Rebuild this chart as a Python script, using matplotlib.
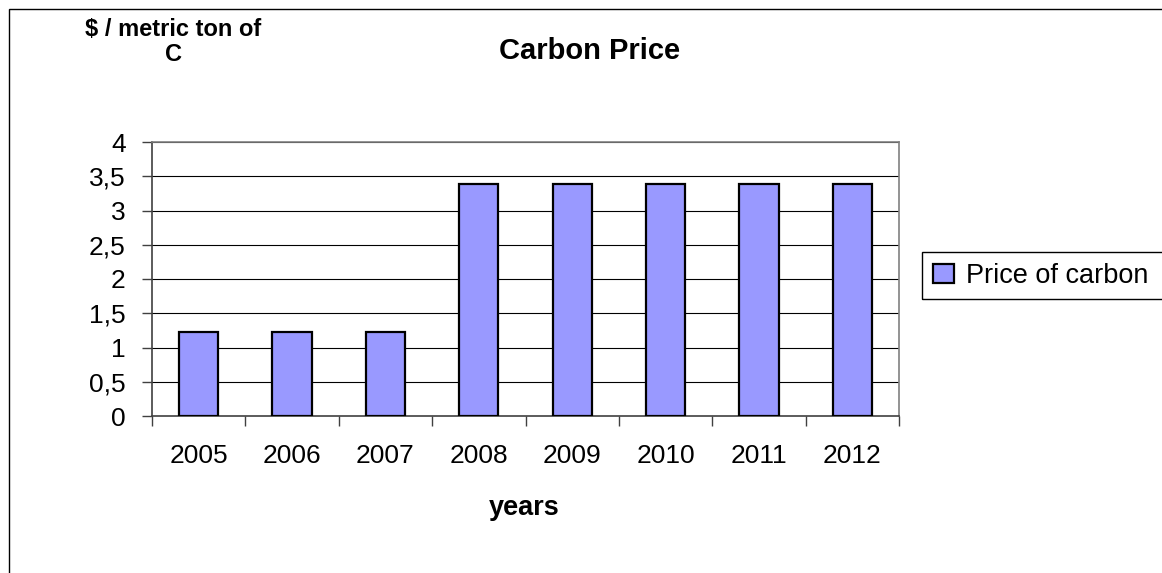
import matplotlib
matplotlib.use("Agg")
import matplotlib.pyplot as plt
from matplotlib.patches import Rectangle
import numpy as np

years = ["2005", "2006", "2007", "2008", "2009", "2010", "2011", "2012"]
prices = [1.22, 1.22, 1.22, 3.39, 3.39, 3.39, 3.39, 3.39]
y_ticks = [0, 0.5, 1, 1.5, 2, 2.5, 3, 3.5, 4]
y_tick_labels = ["0", "0,5", "1", "1,5", "2", "2,5", "3", "3,5", "4"]
series_name = "Price of carbon"
title = "Carbon Price"
y_label = "$ / metric ton of\nC"
x_label = "years"

W, H = 1162, 573
plt.rcParams['font.family'] = ['Liberation Sans', 'DejaVu Sans']
fig = plt.figure(figsize=(W / 100, H / 100), dpi=100)

def fx(px):
    return px / W

def fy(py):
    return 1 - py / H

# outer chart border (left and top visible, rest beyond image)
fig.patches.append(Rectangle((fx(9), fy(H + 20)), fx(W + 20), fy(9) - fy(H + 20),
                             transform=fig.transFigure, fill=False,
                             edgecolor='black', linewidth=1.0))

ax = fig.add_axes([fx(152), fy(416), fx(899) - fx(152), fy(142) - fy(416)])
x = np.arange(len(years))
bars = ax.bar(x, prices, width=0.42, color='#9999FF', edgecolor='black',
              linewidth=1.6, zorder=3, label=series_name)

ax.set_xlim(-0.5, len(years) - 0.5)
ax.set_ylim(0, 4)
ax.set_yticks(y_ticks)
ax.set_yticklabels(y_tick_labels, fontsize=19)
for yv in y_ticks[1:]:
    ax.axhline(yv, color='black', linewidth=0.8, zorder=1)

ax.set_xticks(x)
ax.set_xticklabels(years, fontsize=19)
ax.set_xticks(np.arange(-0.5, len(years), 1.0), minor=True)
ax.tick_params(axis='x', which='major', length=0, pad=20)
ax.tick_params(axis='x', which='minor', length=7, width=1.0, color='#404040')
ax.tick_params(axis='y', length=7, width=1.0, color='#404040', pad=12)

for s in ['top', 'right']:
    ax.spines[s].set_color('#808080')
    ax.spines[s].set_linewidth(1.2)
for s in ['left', 'bottom']:
    ax.spines[s].set_color('#404040')
    ax.spines[s].set_linewidth(1.2)

fig.text(fx(590), fy(51), title, fontsize=21, fontweight='bold', ha='center', va='center')
fig.text(fx(173), fy(42), y_label, fontsize=17, fontweight='bold', ha='center',
         va='center', linespacing=1.08)
fig.text(fx(524), fy(508), x_label, fontsize=19.5, fontweight='bold', ha='center', va='center')

# legend frame
fig.patches.append(Rectangle((fx(922), fy(299)), fx(W + 20) - fx(922), fy(252) - fy(299),
                             transform=fig.transFigure, fill=False,
                             edgecolor='black', linewidth=1.0))
fig.legend(handles=[bars], labels=[series_name], loc='center left',
           bbox_to_anchor=(fx(924), fy(276)), frameon=False, fontsize=19.5,
           handlelength=0.75, handleheight=0.75, handletextpad=0.45,
           borderpad=0, borderaxespad=0.35)

fig.savefig("out.png", dpi=100)
